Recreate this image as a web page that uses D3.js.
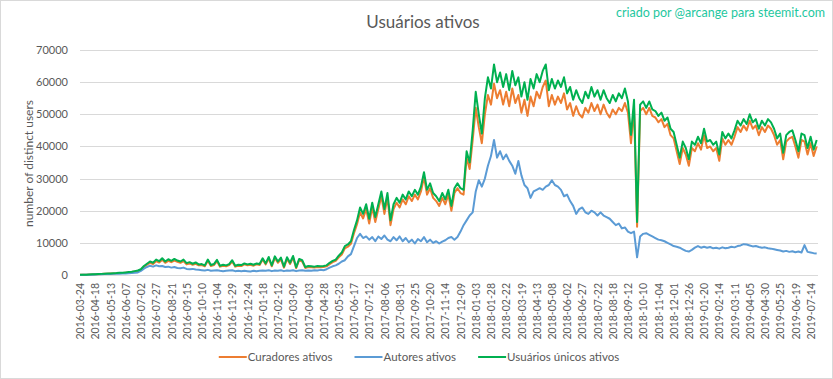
<!DOCTYPE html>
<html><head><meta charset="utf-8">
<script src="https://cdn.jsdelivr.net/npm/d3@7"></script>
<style>
html,body{margin:0;padding:0;background:#fff;}
svg{display:block;font-family:Lato,"Open Sans",sans-serif;}
</style></head>
<body>
<svg id="chart" width="833" height="379"></svg>
<script>
// ---- data ----
const title = "Usuários ativos";
const credit = "criado por @arcange para steemit.com";
const yAxisTitle = "number of distinct users";
const seriesNames = ["Curadores ativos", "Autores ativos", "Usuários únicos ativos"];
const yTicks = [0, 10000, 20000, 30000, 40000, 50000, 60000, 70000];
const tickLabels = [
 "2016-03-24","2016-04-18","2016-05-13","2016-06-07","2016-07-02","2016-07-27","2016-08-21","2016-09-15",
 "2016-10-10","2016-11-04","2016-11-29","2016-12-24","2017-01-18","2017-02-12","2017-03-09","2017-04-03",
 "2017-04-28","2017-05-23","2017-06-17","2017-07-12","2017-08-06","2017-08-31","2017-09-25","2017-10-20",
 "2017-11-14","2017-12-09","2018-01-03","2018-01-28","2018-02-22","2018-03-19","2018-04-13","2018-05-08",
 "2018-06-02","2018-06-27","2018-07-22","2018-08-18","2018-09-12","2018-10-10","2018-11-04","2018-12-01",
 "2018-12-26","2019-01-20","2019-02-14","2019-03-11","2019-04-05","2019-04-30","2019-05-25","2019-06-19",
 "2019-07-14"];
// one value every 5 days (category index 0,5,10,...)
const unicos = [
 50,80,100,150,200,250,300,350,400,450,500,550,600,700,700,800,900,1000,1200,1400,
 1800,2800,3500,4200,3800,4800,4300,5200,4200,4900,
 4400,5000,4500,4200,4800,3700,4000,3500,3900,3300,
 3400,3000,4800,3100,3400,4700,2900,3200,3000,3400,
 4600,2900,3200,3100,3600,3300,3500,3200,3600,3400,
 5200,3600,5600,3000,5800,4200,5400,2600,5500,3800,
 5900,2400,5000,4600,2500,2800,2700,2600,2800,2700,
 2800,3000,3800,4400,4800,6000,7000,9000,9500,10500,
 14000,17000,21000,19000,22000,17500,22500,18000,22000,26000,
 20500,25500,17000,22000,24000,22500,25000,23500,26000,24500,
 26500,25000,27500,32000,26500,28500,25500,24500,23000,25500,
 23500,26500,21500,27000,28500,27000,26500,38500,35000,45000,
 57000,50000,44000,55000,61500,58000,65500,60000,63000,58500,
 62500,57500,63500,59000,61500,55500,60000,54500,61000,58000,
 62500,60000,63500,65500,57500,61000,58000,60500,58500,61500,
 56500,58500,54500,57500,55000,53500,57000,55000,58500,55500,
 57500,54500,57500,55000,53500,56000,54000,56500,55000,58000,
 54000,43600,54500,16500,53000,54000,52000,54000,51500,51000,
 49500,50500,48000,49000,45500,44500,40500,36500,41500,39500,
 36000,41500,40500,43000,41000,45500,41500,42000,40500,41500,
 37500,44500,42500,44000,42500,45000,48000,46500,48500,47000,
 50000,47500,48500,45500,48000,46500,48500,47500,45500,42500,
 44000,38000,43500,44500,45000,42000,38500,44000,43500,39500,
 43000,39000,42000];
const curadores = [
 40,70,90,130,180,220,270,310,360,400,450,500,540,630,630,720,810,900,1080,1260,
 1600,2500,3200,3800,3400,4300,3900,4700,3800,4400,
 4000,4500,4100,3800,4300,3300,3600,3200,3500,3000,
 3100,2700,4400,2800,3100,4300,2600,2900,2700,3100,
 4200,2600,2900,2800,3300,3000,3200,2900,3300,3100,
 4800,3300,5100,2700,5300,3800,4900,2300,5000,3400,
 5400,2100,4600,4200,2200,2500,2400,2300,2500,2400,
 2500,2700,3400,4000,4400,5500,6400,8300,8800,9700,
 13000,15800,19500,17600,20500,16000,21000,16500,20500,24500,
 19000,24000,15500,20500,22500,21000,23500,22000,24500,23000,
 25000,23500,26000,30500,25000,27000,24000,23000,21500,24000,
 22000,25000,20000,25500,27000,25500,25000,36500,33000,42000,
 52000,46000,41000,50000,56000,53000,59500,55000,57500,53000,
 57000,52500,58000,53500,56000,50500,54500,49500,55500,52500,
 57000,55000,58500,60500,52500,56000,53000,55500,53500,56500,
 51500,53500,49500,52500,50000,49000,52000,50500,53500,51000,
 53000,50000,53000,50500,49000,51500,50000,52000,51000,53500,
 50500,41000,52000,15000,51000,52000,50000,52000,49500,49000,
 47500,48500,46000,47000,43500,42500,38500,34500,39500,37500,
 34000,39500,38500,41000,39000,43500,39500,40000,38500,39500,
 35500,42500,40500,42000,40500,43000,46000,44500,46500,45000,
 48000,45500,46500,43500,46000,44500,46500,45500,43500,40500,
 42000,36000,41500,42500,43000,40000,36500,42000,41500,37500,
 41000,37000,40000];
const autores = [
 30,50,60,80,100,150,200,250,280,300,330,350,380,420,450,500,550,600,700,800,
 1300,2000,2500,2900,2600,3000,2700,2800,2500,2600,
 2300,2500,2200,2100,2300,1900,1800,1900,1700,1600,
 1500,1400,1600,1300,1400,1500,1300,1200,1300,1400,
 1500,1200,1300,1200,1300,1200,1100,1300,1200,1300,
 1400,1300,1500,1200,1400,1300,1500,1200,1400,1300,
 1500,1200,1400,1500,1300,1400,1300,1500,1400,1600,
 1500,1800,2300,2700,3000,3500,4200,4600,5800,6500,
 9000,11500,12800,11500,12000,11000,11800,10500,12000,11200,
 12300,11000,10500,11800,10800,12000,10500,11500,10200,11000,
 9800,11200,10500,11800,10200,11000,10000,10500,9800,10400,
 10800,11500,11800,11000,11800,13500,15500,17000,18500,19500,
 26000,29500,27500,30000,34000,37000,42000,36500,38500,36000,
 37500,35500,34000,31500,35500,31000,28000,27000,24000,26000,
 26500,27000,26500,27500,28000,29500,28000,27500,26500,24500,
 25000,23000,21500,19000,20500,21000,19500,19000,20000,19500,
 18500,19500,18500,18000,17500,16500,15500,16000,14500,14800,
 13500,13000,13500,5500,12000,12800,13000,12500,12000,11500,
 11000,10800,10500,10000,9500,9000,8800,8500,8000,7500,
 7300,7800,8500,9000,8500,8800,8500,8700,8300,8500,
 8200,8600,8300,8500,8800,8600,9000,9200,9600,9500,
 9200,8900,9000,8700,8500,8600,8300,8200,8000,7800,
 7600,7300,7500,7200,7400,7100,7300,7000,9300,7200,
 7000,6800,6700];
const colors = ["#ED7D31", "#5B9BD5", "#00B050"];

// ---- chart ----
const svg = d3.select("#chart");
const W = 833, H = 379;
const plot = {left: 80, right: 818, top: 50, bottom: 275};
const daysPerTick = 25;
const textColor = "#595959";

svg.append("rect").attr("x", 0.5).attr("y", 0.5).attr("width", W - 1).attr("height", H - 1)
  .attr("fill", "#fff").attr("stroke", "#d9d9d9");

const lastTickDay = (tickLabels.length - 1) * daysPerTick;
const x = d3.scaleLinear().domain([0, lastTickDay]).range([plot.left, 810.6]);
const y = d3.scaleLinear().domain([0, 70000]).range([plot.bottom, plot.top]);

// gridlines
svg.append("g").selectAll("line").data(yTicks).join("line")
  .attr("x1", plot.left).attr("x2", plot.right)
  .attr("y1", d => Math.round(y(d)) + 0.5).attr("y2", d => Math.round(y(d)) + 0.5)
  .attr("stroke", "#d9d9d9").attr("stroke-width", 1);

// y axis
const yAxis = d3.axisLeft(y).tickValues(yTicks).tickSize(0).tickPadding(0).tickFormat(d3.format("d"));
const gy = svg.append("g").attr("transform", `translate(${plot.left - 12},0)`).call(yAxis);
gy.select(".domain").remove();
gy.selectAll("text").attr("fill", textColor).style("font-size", "11px").style("font-family", "Lato");

// x axis labels
const tickDays = tickLabels.map((d, i) => i * daysPerTick);
const xAxis = d3.axisBottom(x).tickValues(tickDays).tickSize(0).tickPadding(0)
  .tickFormat((d, i) => tickLabels[i]);
const gx = svg.append("g").attr("transform", `translate(0,${plot.bottom + 8})`).call(xAxis);
gx.select(".domain").remove();
gx.selectAll("text")
  .attr("transform", "rotate(-90)")
  .attr("text-anchor", "end")
  .attr("x", 0).attr("y", 0).attr("dy", "0.35em")
  .attr("fill", textColor).style("font-size", "10.5px").style("font-family", "Lato");

// lines
const sampleDays = d3.range(unicos.length).map(i => i * 5);
const line = d3.line().x((d, i) => x(sampleDays[i])).y(d => y(d));
[curadores, autores, unicos].forEach((s, k) => {
  svg.append("path").datum(s).attr("d", line).attr("fill", "none")
    .attr("stroke", colors[k]).attr("stroke-width", 2).attr("stroke-linejoin", "round");
});

// title
svg.append("text").attr("x", 423).attr("y", 28).attr("text-anchor", "middle")
  .attr("fill", textColor).style("font-size", "17px").text(title);
svg.append("text").attr("x", 825).attr("y", 17).attr("text-anchor", "end")
  .attr("fill", "#1fc7a0").style("font-size", "12.5px").text(credit);

// y axis title
svg.append("text").attr("transform", `translate(33,${(plot.top + plot.bottom) / 2 + 1}) rotate(-90)`)
  .attr("text-anchor", "middle").attr("fill", textColor).style("font-size", "12px").text(yAxisTitle);

// legend
const leg = svg.append("g");
const items = seriesNames.map((n, i) => {
  const g = leg.append("g");
  g.append("line").attr("x1", 0).attr("x2", 28).attr("y1", 0).attr("y2", 0)
    .attr("stroke", colors[i]).attr("stroke-width", 2);
  const t = g.append("text").attr("x", 29).attr("dy", "0.35em").attr("fill", textColor)
    .style("font-size", "11.5px").text(n);
  return {g, w: 29 + t.node().getComputedTextLength()};
});
const gap = 22;
const total = d3.sum(items, d => d.w) + gap * (items.length - 1);
let cx = 419 - total / 2;
items.forEach(it => { it.g.attr("transform", `translate(${cx},357)`); cx += it.w + gap; });
</script>
</body></html>
